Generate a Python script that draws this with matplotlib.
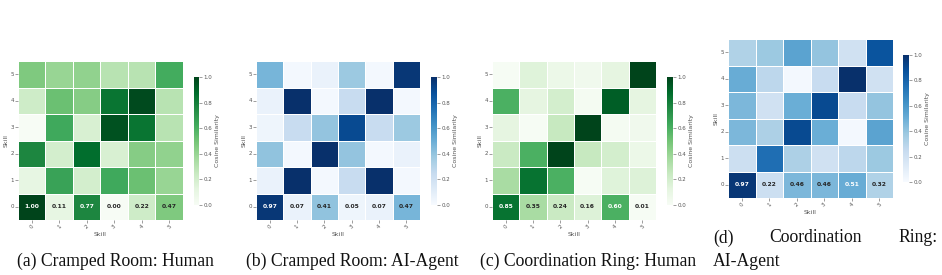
import numpy as np
import matplotlib
matplotlib.use("Agg")
import matplotlib.pyplot as plt
import seaborn as sns

# similarity matrices, row index = skill on y axis (0 at bottom)
cramped_human = [
    [1.00, 0.11, 0.77, 0.00, 0.22, 0.47],
    [0.11, 0.66, 0.20, 0.63, 0.52, 0.40],
    [0.77, 0.20, 0.87, 0.18, 0.45, 0.42],
    [0.00, 0.63, 0.18, 0.96, 0.84, 0.30],
    [0.22, 0.52, 0.45, 0.84, 0.98, 0.30],
    [0.47, 0.40, 0.42, 0.30, 0.30, 0.62],
]
cramped_agent = [
    [0.97, 0.07, 0.41, 0.05, 0.07, 0.47],
    [0.07, 1.00, 0.02, 0.24, 1.00, 0.02],
    [0.41, 0.02, 1.00, 0.40, 0.02, 0.07],
    [0.05, 0.24, 0.40, 0.90, 0.24, 0.38],
    [0.07, 1.00, 0.02, 0.24, 1.00, 0.02],
    [0.47, 0.02, 0.07, 0.38, 0.02, 0.97],
]
ring_human = [
    [0.85, 0.35, 0.24, 0.16, 0.60, 0.01],
    [0.35, 0.85, 0.60, 0.01, 0.15, 0.16],
    [0.24, 0.60, 1.00, 0.25, 0.20, 0.08],
    [0.12, 0.01, 0.25, 1.00, 0.02, 0.05],
    [0.60, 0.12, 0.20, 0.02, 0.92, 0.12],
    [0.01, 0.15, 0.08, 0.05, 0.12, 1.00],
]
ring_agent = [
    [0.97, 0.22, 0.46, 0.46, 0.51, 0.32],
    [0.22, 0.76, 0.33, 0.20, 0.28, 0.38],
    [0.46, 0.33, 0.90, 0.50, 0.02, 0.55],
    [0.46, 0.20, 0.50, 0.90, 0.24, 0.40],
    [0.51, 0.28, 0.02, 0.24, 1.00, 0.20],
    [0.32, 0.38, 0.55, 0.40, 0.20, 0.86],
]
skills = ["0", "1", "2", "3", "4", "5"]

W, H = 942, 275
fig = plt.figure(figsize=(W / 100, H / 100), dpi=100)


def px_axes(x0, y0, x1, y1):
    # pixel box (top-left origin) -> figure axes
    return fig.add_axes([x0 / W, 1 - y1 / H, (x1 - x0) / W, (y1 - y0) / H])


panels = [
    (cramped_human, "Greens", (18, 61, 183, 220), (194, 77, 199, 205)),
    (cramped_agent, "Blues", (256, 61, 420, 220), (431, 77, 437, 205)),
    (ring_human, "Greens", (492, 61, 656, 220), (667, 77, 673, 205)),
    (ring_agent, "Blues", (728, 39, 893, 198), (903, 55, 909, 182)),
]

grey = "#555555"
for mat, cmap, box, cbox in panels:
    data = np.array(mat)
    annot = np.full(data.shape, "", dtype=object)
    annot[0] = ["%.2f" % v for v in data[0]]
    ax = px_axes(*box)
    cax = px_axes(*cbox)
    sns.heatmap(data, cmap=cmap, vmin=0, vmax=1, annot=annot, fmt="",
                annot_kws={"fontsize": 4.3, "fontweight": "bold"},
                linewidths=0.7, linecolor="white", ax=ax, cbar_ax=cax,
                xticklabels=skills, yticklabels=skills)
    # text colour: white on dark cells
    for t, v in zip([t for t in ax.texts if t.get_text()], data[0]):
        t.set_color("white" if v > 0.5 else "#262626")
    ax.invert_yaxis()
    ax.set_xlabel("Skill", fontsize=4.5, color=grey, labelpad=1)
    ax.set_ylabel("Skill", fontsize=4.5, color=grey, labelpad=1)
    ax.tick_params(labelsize=4, colors=grey, length=2, width=0.4, pad=1)
    plt.setp(ax.get_xticklabels(), rotation=45)
    plt.setp(ax.get_yticklabels(), rotation=0)
    cax.tick_params(labelsize=4, colors=grey, length=2, width=0.4, pad=1)
    cax.set_ylabel("Cosine Similarity", fontsize=4.5, color=grey, labelpad=2)
    for s in cax.spines.values():
        s.set_visible(False)

cap = dict(fontsize=12.7, family="Liberation Serif", color="#111111")
fig.text(115 / W, 1 - 261 / H, "(a) Cramped Room: Human", ha="center", va="center", **cap)
fig.text(352 / W, 1 - 261 / H, "(b) Cramped Room: AI-Agent", ha="center", va="center", **cap)
fig.text(588 / W, 1 - 261 / H, "(c) Coordination Ring: Human", ha="center", va="center", **cap)
fig.text(713 / W, 1 - 238 / H, "(d)", ha="left", va="center", **cap)
fig.text(815 / W, 1 - 238 / H, "Coordination", ha="center", va="center", **cap)
fig.text(938 / W, 1 - 238 / H, "Ring:", ha="right", va="center", **cap)
fig.text(713 / W, 1 - 261 / H, "AI-Agent", ha="left", va="center", **cap)

fig.savefig("out.png", dpi=100)
